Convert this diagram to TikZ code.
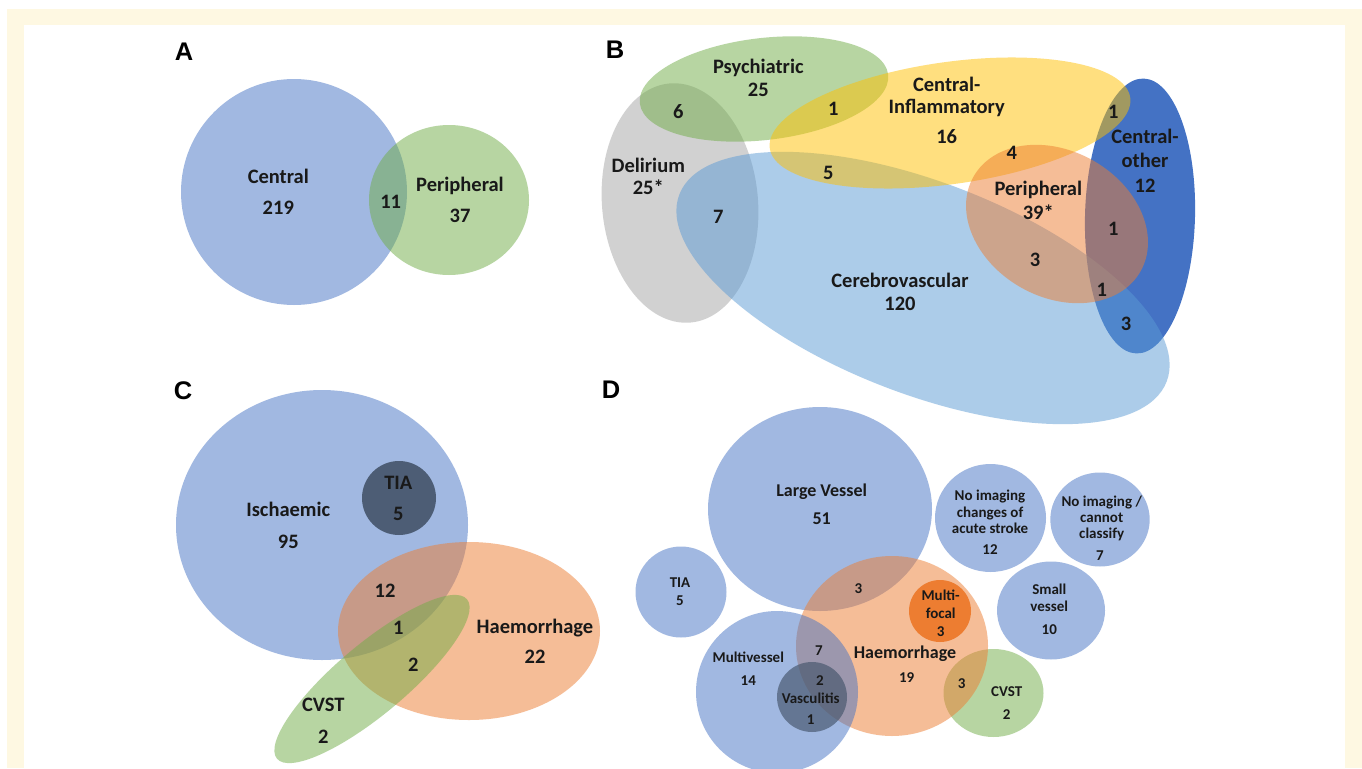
\documentclass[tikz,border=0pt]{standalone}
\usepackage{fontspec}
\setmainfont{Carlito}
\newfontfamily\panelfont{Liberation Sans}
\definecolor{acA}{HTML}{4472C4}
\definecolor{acB}{HTML}{5B9BD5}
\definecolor{acG}{HTML}{70AD47}
\definecolor{acO}{HTML}{ED7D31}
\definecolor{acY}{HTML}{FFC000}
\definecolor{acR}{HTML}{A5A5A5}
\definecolor{acD}{HTML}{44546A}
\definecolor{cream}{RGB}{254,248,226}
\definecolor{txt}{RGB}{25,25,25}
\tikzset{
  half/.style={fill opacity=0.5},
  L/.style={font=\bfseries\fontsize{20.5}{24}\selectfont, text height=13.2pt, text depth=0pt, inner sep=0pt, text=txt},
  M/.style={font=\bfseries\fontsize{18}{21}\selectfont, text height=11.6pt, text depth=0pt, inner sep=0pt, text=txt},
  S/.style={font=\bfseries\fontsize{15}{18}\selectfont, text height=9.7pt, text depth=0pt, inner sep=0pt, text=txt},
  panel/.style={font=\panelfont\bfseries\fontsize{25.5}{28}\selectfont, text height=18.3pt, text depth=0pt, inner sep=0pt, text=black},
}
\begin{document}
\begin{tikzpicture}[x=1pt,y=-1pt]
\useasboundingbox (0,0) rectangle (1362,768);
\fill[white] (0,0) rectangle (1362,768);
\fill[cream] (7,9) rectangle (1362,768);
\fill[white] (24,25) rectangle (1345,768);

% ---------------- Panel A
\node[panel] (pA) at (184,51) {A};
\fill[acA,half] (294,192) circle [radius=113pt];
\fill[acG,half] (449,200) ellipse [x radius=80pt, y radius=75pt];
\node[L] (a1) at (278.3,176.7) {Central};
\node[L] (a2) at (278.3,208.3) {219};
\node[L] (a3) at (390.7,201.7) {11};
\node[L] (a4) at (460,185) {Peripheral};
\node[L] (a5) at (460,216) {37};

% ---------------- Panel B
\node[panel] (pB) at (615,49) {B};
\fill[acA,rotate around={-1.5:(1140,216)}] (1140,216) ellipse [x radius=55pt, y radius=137.5pt];
\fill[acR,half,rotate around={5:(680,203)}] (680,203) ellipse [x radius=78pt, y radius=120pt];
\fill[acG,half,rotate around={6.6:(764,89)}] (764,89) ellipse [x radius=125pt, y radius=51pt];
\fill[acB,half,rotate around={-21:(923,288)}] (923,288) ellipse [x radius=261pt, y radius=106pt];
\fill[acY,half,rotate around={8:(950,123)}] (950,123) ellipse [x radius=182pt, y radius=61pt];
\fill[acO,half,rotate around={-29.5:(1057,224)}] (1057,224) ellipse [x radius=96pt, y radius=73pt];
\node[L] (b1) at (758.3,67.3) {Psychiatric};
\node[L] (b2) at (758.3,90) {25};
\node[L] (b3) at (678.3,112) {6};
\node[L] (b4) at (648.3,166) {Delirium};
\node[L] (b5) at (648.3,187.5) {25*};
\node[L] (b6) at (833.3,109) {1};
\node[L] (b7) at (946.7,85) {Central-};
\node[L] (b8) at (946.7,106.7) {Inflammatory};
\node[L] (b9) at (946.7,137.3) {16};
\node[L] (b10) at (828.3,172.5) {5};
\node[L] (b11) at (718.3,217) {7};
\node[L] (b12) at (900,280.7) {Cerebrovascular};
\node[L] (b13) at (900,303.5) {120};
\node[L] (b14) at (1113.3,112) {1};
\node[L] (b15) at (1145,136.7) {Central-};
\node[L] (b16) at (1145,160.7) {other};
\node[L] (b17) at (1145,185.5) {12};
\node[L] (b18) at (1011.7,153.3) {4};
\node[L] (b19) at (1038.3,189) {Peripheral};
\node[L] (b20) at (1038.3,213) {39*};
\node[L] (b21) at (1113.3,229.3) {1};
\node[L] (b22) at (1035,259.5) {3};
\node[L] (b23) at (1101.7,290) {1};
\node[L] (b24) at (1126,324) {3};

% ---------------- Panel C
\node[panel] (pC) at (183,390) {C};
\fill[acA,half] (322,525) ellipse [x radius=146pt, y radius=135pt];
\fill[acD,fill opacity=0.9] (399,498) circle [radius=37pt];
\fill[acO,half] (469,631) ellipse [x radius=131pt, y radius=89pt];
\fill[acG,half,rotate around={40:(372,679)}] (372,679) ellipse [x radius=124pt, y radius=35pt];
\node[L] (c1) at (288.3,510) {Ischaemic};
\node[L] (c2) at (288.3,541.7) {95};
\node[L] (c3) at (398.3,482.7) {TIA};
\node[L] (c4) at (398.3,514) {5};
\node[L] (c5) at (385,590.7) {12};
\node[L] (c6) at (398.3,628.3) {1};
\node[L] (c7) at (413.3,665) {2};
\node[L] (c8) at (535,626.7) {Haemorrhage};
\node[L] (c9) at (535,657.3) {22};
\node[L] (c10) at (323.3,705) {CVST};
\node[L] (c11) at (323.3,736.7) {2};

% ---------------- Panel D
\node[panel] (pD) at (611,389) {D};
\fill[acA,half] (820,509) ellipse [x radius=112pt, y radius=102pt];
\fill[acA,half] (681,592) circle [radius=45.5pt];
\fill[acA,half] (990.5,518) ellipse [x radius=55.5pt, y radius=54pt];
\fill[acA,half] (1100,519.5) ellipse [x radius=49.7pt, y radius=47pt];
\fill[acA,half] (1051,610.5) ellipse [x radius=54pt, y radius=49pt];
\fill[acG,half] (993.5,693) ellipse [x radius=50pt, y radius=44pt];
\fill[acO,half] (892,646) ellipse [x radius=96pt, y radius=90pt];
\fill[acA,half] (777,692) circle [radius=81pt];
\fill[acD,fill opacity=0.65] (812,697) circle [radius=35pt];
\fill[acO] (940,611) circle [radius=31pt];
\node[M] (d1) at (821.7,490.7) {Large Vessel};
\node[M] (d2) at (821.7,518.3) {51};
\node[S] (d3) at (680,582.7) {TIA};
\node[S] (d4) at (680,601) {5};
\node[S] (d5) at (858.3,588.3) {3};
\node[S] (d6) at (940.7,595.7) {Multi-};
\node[S] (d7) at (940.7,613.3) {focal};
\node[S] (d8) at (940.7,631.7) {3};
\node[M] (d9) at (905,652.3) {Haemorrhage};
\node[S] (d10) at (906.7,677.3) {19};
\node[S] (d11) at (748.3,657.7) {Multivessel};
\node[S] (d12) at (748.3,681) {14};
\node[S] (d13) at (819,650.7) {7};
\node[S] (d14) at (820,681) {2};
\node[S] (d15) at (810.7,698.3) {Vasculitis};
\node[S] (d16) at (810.7,720) {1};
\node[S] (d17) at (961.7,683.3) {3};
\node[S] (d18) at (1006.7,691.7) {CVST};
\node[S] (d19) at (1006.7,715) {2};
\node[S] (d20) at (990,495.7) {No imaging};
\node[S] (d21) at (990,512.3) {changes of};
\node[S] (d22) at (990,528.3) {acute stroke};
\node[S] (d23) at (990,550) {12};
\node[S] (d24) at (1101.7,501.7) {No imaging /};
\node[S] (d25) at (1101.7,517.7) {cannot};
\node[S] (d26) at (1101.7,533.3) {classify};
\node[S] (d27) at (1100,556) {7};
\node[S] (d28) at (1049.3,590) {Small};
\node[S] (d29) at (1049.3,606.7) {vessel};
\node[S] (d30) at (1049.3,629.3) {10};
\end{tikzpicture}
\end{document}
